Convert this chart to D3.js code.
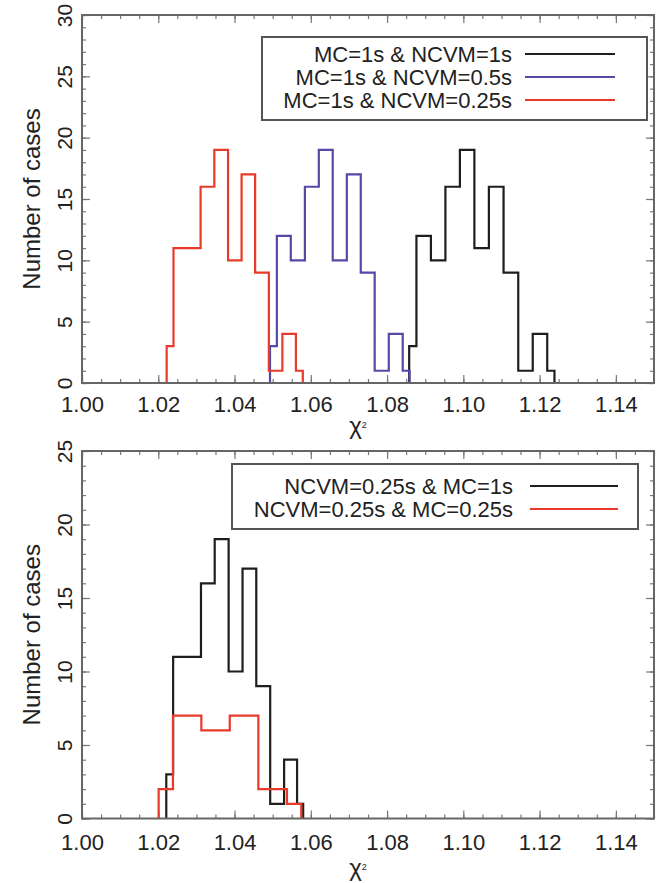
<!DOCTYPE html>
<html>
<head>
<meta charset="utf-8">
<script src="https://cdn.jsdelivr.net/npm/d3@7"></script>
<style>
body { margin: 0; background: #fff; }
svg text { font-family: "Liberation Sans", Arial, Helvetica, sans-serif; fill: #222; }
</style>
</head>
<body>
<div id="chart"></div>
<script>
// x tick labels shared by both panels
var xTicks = [1.00, 1.02, 1.04, 1.06, 1.08, 1.10, 1.12, 1.14];

// top panel, MC = 1s
var topLabels = ["MC=1s & NCVM=1s", "MC=1s & NCVM=0.5s", "MC=1s & NCVM=0.25s"];
var topColors = ["#1e1e1e", "#5548a6", "#e83a2a"];

var chiNcvm1 = [1.0858, 1.0896, 1.0934, 1.0972, 1.1010, 1.1048, 1.1086, 1.1125, 1.1163, 1.1201, 1.1239];
var cntNcvm1 = [3, 12, 10, 16, 19, 11, 16, 9, 1, 4, 1];

var chiNcvm05 = [1.0493, 1.0529, 1.0566, 1.0603, 1.0639, 1.0676, 1.0713, 1.0749, 1.0786, 1.0823, 1.0859];
var cntNcvm05 = [3, 12, 10, 16, 19, 10, 17, 9, 1, 4, 1];

var chiNcvm025 = [1.0222, 1.0258, 1.0293, 1.0329, 1.0365, 1.0401, 1.0436, 1.0472, 1.0508, 1.0543, 1.0579];
var cntNcvm025 = [3, 11, 11, 16, 19, 10, 17, 9, 1, 4, 1];

// bottom panel, NCVM = 0.25s
var botLabels = ["NCVM=0.25s & MC=1s", "NCVM=0.25s & MC=0.25s"];
var botColors = ["#1e1e1e", "#e83a2a"];

var chiMc1 = [1.0221, 1.0257, 1.0294, 1.0330, 1.0366, 1.0403, 1.0439, 1.0475, 1.0512, 1.0548, 1.0580];
var cntMc1 = [3, 11, 11, 16, 19, 10, 17, 9, 1, 4, 1];

var chiMc025 = [1.0201, 1.0276, 1.0350, 1.0425, 1.0500, 1.0575];
var cntMc025 = [2, 7, 6, 7, 2, 1];

var outerWidth = 669,
    outerHeight = 883,
    xLeft = 82,
    xRight = 654;

var svg = d3.select("#chart").append("svg")
    .attr("width", outerWidth)
    .attr("height", outerHeight);

svg.append("rect")
    .attr("width", outerWidth)
    .attr("height", outerHeight)
    .attr("fill", "#fff");

var x = d3.scaleLinear().domain([1.00, 1.15]).range([xLeft, xRight]);

function drawPanel(p) {
    var y = d3.scaleLinear().domain([0, p.yMax]).range([p.bottom, p.top]);
    var g = svg.append("g");
    var minorX = d3.range(1.00, 1.1501, 0.005);
    var minorY = d3.range(0, p.yMax + 0.5, 1);
    var majorY = d3.range(0, p.yMax + 0.5, 5);

    // minor ticks on all four sides
    g.append("g").attr("transform", "translate(0," + p.bottom + ")")
        .call(d3.axisBottom(x).tickValues(minorX).tickSize(-4).tickFormat(""));
    g.append("g").attr("transform", "translate(0," + p.top + ")")
        .call(d3.axisTop(x).tickValues(minorX).tickSize(-4).tickFormat(""));
    g.append("g").attr("transform", "translate(" + xLeft + ",0)")
        .call(d3.axisLeft(y).tickValues(minorY).tickSize(-4).tickFormat(""));
    g.append("g").attr("transform", "translate(" + xRight + ",0)")
        .call(d3.axisRight(y).tickValues(minorY).tickSize(-4).tickFormat(""));

    // major ticks
    var xAxis = g.append("g").attr("transform", "translate(0," + p.bottom + ")")
        .call(d3.axisBottom(x).tickValues(xTicks).tickSize(-8).tickPadding(p.tickPad)
            .tickFormat(d3.format(".2f")));
    g.append("g").attr("transform", "translate(0," + p.top + ")")
        .call(d3.axisTop(x).tickValues(xTicks).tickSize(-8).tickFormat(""));
    var yAxis = g.append("g").attr("transform", "translate(" + xLeft + ",0)")
        .call(d3.axisLeft(y).tickValues(majorY).tickSize(-8));
    g.append("g").attr("transform", "translate(" + xRight + ",0)")
        .call(d3.axisRight(y).tickValues(majorY).tickSize(-8).tickFormat(""));

    g.selectAll(".domain").remove();
    g.selectAll(".tick line").attr("stroke", "#777").attr("stroke-width", 1.2);

    xAxis.selectAll("text")
        .style("font-size", "22px");

    yAxis.selectAll("text")
        .attr("transform", "rotate(-90)")
        .attr("x", 0)
        .attr("y", -10)
        .attr("dy", "0")
        .style("text-anchor", "middle")
        .style("font-size", "21px");

    // histograms, IDL style steps centred on the bins
    p.series.forEach(function(s) {
        var pts = [[s.chi[0], 0]];
        s.chi.forEach(function(c, i) { pts.push([c, s.cnt[i]]); });
        pts.push([s.chi[s.chi.length - 1], 0]);
        g.append("path")
            .attr("d", d3.line()
                .x(function(d) { return x(d[0]); })
                .y(function(d) { return y(d[1]); })
                .curve(d3.curveStep)(pts))
            .attr("fill", "none")
            .attr("stroke", s.color)
            .attr("stroke-width", 2.2);
    });

    // frame
    g.append("rect")
        .attr("x", xLeft)
        .attr("y", p.top)
        .attr("width", xRight - xLeft)
        .attr("height", p.bottom - p.top)
        .attr("fill", "none")
        .attr("stroke", "#666")
        .attr("stroke-width", 2);

    // legend
    g.append("rect")
        .attr("x", p.legend.x)
        .attr("y", p.legend.y)
        .attr("width", p.legend.w)
        .attr("height", p.legend.h)
        .attr("fill", "#fff")
        .attr("stroke", "#555")
        .attr("stroke-width", 2);

    p.series.forEach(function(s, i) {
        var ry = p.legend.rows[i];
        g.append("text")
            .attr("x", p.legend.textX)
            .attr("y", ry)
            .attr("dy", "0.35em")
            .style("text-anchor", "end")
            .style("font-size", "22px")
            .text(s.label);
        g.append("line")
            .attr("x1", p.legend.lineX1)
            .attr("x2", p.legend.lineX2)
            .attr("y1", ry)
            .attr("y2", ry)
            .attr("stroke", s.color)
            .attr("stroke-width", 2.2);
    });

    // axis titles
    var xt = g.append("text")
        .attr("x", 358)
        .attr("y", p.titleY)
        .style("text-anchor", "middle")
        .style("font-size", "24px")
        .text("χ");
    xt.append("tspan")
        .attr("dy", "-0.7em")
        .style("font-size", "9px")
        .text("2");

    g.append("text")
        .attr("transform", "translate(40," + ((p.top + p.bottom) / 2) + ") rotate(-90)")
        .style("text-anchor", "middle")
        .style("font-size", "24px")
        .text("Number of cases");
}

drawPanel({
    top: 15, bottom: 383, yMax: 30, tickPad: 13, titleY: 434,
    legend: { x: 262, y: 37, w: 385, h: 83, rows: [54, 77, 100], textX: 512, lineX1: 525, lineX2: 615 },
    series: [
        { label: topLabels[0], color: topColors[0], chi: chiNcvm1, cnt: cntNcvm1 },
        { label: topLabels[1], color: topColors[1], chi: chiNcvm05, cnt: cntNcvm05 },
        { label: topLabels[2], color: topColors[2], chi: chiNcvm025, cnt: cntNcvm025 }
    ]
});

drawPanel({
    top: 451, bottom: 818.5, yMax: 25, tickPad: 16, titleY: 876,
    legend: { x: 232, y: 464, w: 406, h: 65, rows: [486, 509], textX: 513, lineX1: 530, lineX2: 618 },
    series: [
        { label: botLabels[0], color: botColors[0], chi: chiMc1, cnt: cntMc1 },
        { label: botLabels[1], color: botColors[1], chi: chiMc025, cnt: cntMc025 }
    ]
});
</script>
</body>
</html>
